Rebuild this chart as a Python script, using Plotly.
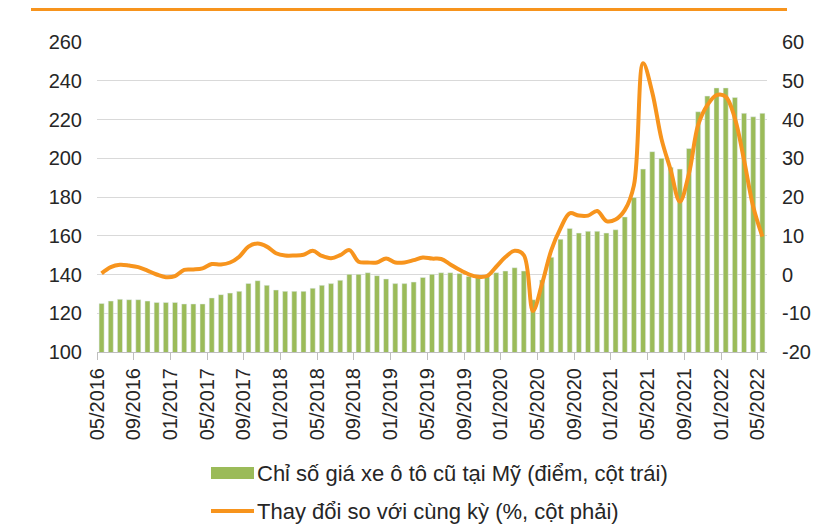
import plotly.graph_objects as go

# ---- data ----
months = [f"{(4 + i) % 12 + 1:02d}/{2016 + (4 + i) // 12}" for i in range(73)]
index_values = [
    125.0, 126.3, 127.2, 127.0, 127.0, 126.3, 125.6, 125.6, 125.6, 124.8,
    124.8, 124.8, 127.9, 129.6, 130.4, 131.3, 135.4, 136.8, 134.4, 132.0,
    131.3, 131.3, 131.3, 132.9, 134.4, 135.3, 137.0, 140.1, 140.1, 140.9,
    139.4, 137.7, 135.3, 135.3, 136.1, 138.5, 140.1, 140.9, 140.9, 140.5,
    139.0, 139.0, 139.5, 140.9, 141.8, 143.5, 141.8, 127.0, 137.2, 148.9,
    158.2, 163.8, 161.4, 162.3, 162.3, 161.4, 163.1, 169.7, 179.7, 194.4,
    203.4, 200.0, 195.3, 194.4, 205.0, 224.0, 232.1, 236.3, 236.3, 231.4,
    223.2, 221.4, 223.2,
]
yoy_change = [
    0.3, 1.9, 2.5, 2.3, 1.9, 1.0, 0.0, -0.7, -0.4, 1.2,
    1.3, 1.6, 2.7, 2.6, 3.1, 4.6, 7.2, 8.0, 7.2, 5.5,
    4.9, 4.9, 5.1, 6.1, 4.8, 4.2, 5.0, 6.3, 3.3, 3.1,
    3.1, 4.1, 3.1, 3.1, 3.7, 4.4, 4.1, 4.0, 2.6, 1.2,
    0.05, -0.6, -0.4, 2.0, 4.5, 6.1, 5.0, -9.4, -2.3, 6.3,
    11.9, 15.8, 15.2, 15.2, 16.4, 13.8, 14.2, 16.6, 23.0, 54.5,
    47.0, 35.0, 27.0, 18.8, 26.1, 38.6, 43.7, 46.3, 45.9, 40.3,
    29.5, 17.5, 9.8,
]
tick_positions = [i - 0.5 for i in range(0, 73, 4)]
tick_labels = [months[i] for i in range(0, 73, 4)]
left_ticks = list(range(100, 261, 20))
right_ticks = list(range(-20, 61, 10))
right_tick_text = [str(v) for v in right_ticks]
bar_name = "Chỉ số giá xe ô tô cũ tại Mỹ (điểm, cột trái)"
line_name = "Thay đổi so với cùng kỳ (%, cột phải)"

GREEN = "#9BBB59"
ORANGE = "#F7941D"
FONT = "Liberation Sans, Arial, sans-serif"
TXT = "#262626"

x = list(range(len(months)))

fig = go.Figure()
fig.add_trace(go.Bar(x=x, y=index_values, name=bar_name, marker_color=GREEN,
                     width=0.55, yaxis="y", showlegend=False))
fig.add_trace(go.Scatter(x=x, y=yoy_change, name=line_name, mode="lines",
                         line=dict(color=ORANGE, width=4, shape="spline", smoothing=1.0),
                         yaxis="y2", showlegend=False))

# page body has an 8px margin: plot area on screen is x 97..767, y 42..352
fig.update_layout(
    width=814, height=524,
    margin=dict(l=89, r=55, t=34, b=180),
    paper_bgcolor="white", plot_bgcolor="white",
    font=dict(family=FONT, size=20, color=TXT),
    xaxis=dict(range=[-0.5, 72.5], tickmode="array", tickvals=tick_positions,
               ticktext=tick_labels, tickangle=-90, ticks="outside", ticklen=7,
               tickcolor="#BFBFBF", showline=True, linecolor="#BFBFBF", linewidth=1,
               showgrid=False, zeroline=False, tickfont=dict(size=20, color=TXT)),
    yaxis=dict(range=[100, 260], tickvals=left_ticks, showgrid=True,
               gridcolor="#D9D9D9", gridwidth=1, zeroline=False, showline=False,
               ticklabelstandoff=14, tickfont=dict(size=20, color=TXT)),
    yaxis2=dict(range=[-20, 60], tickmode="array", tickvals=right_ticks,
                ticktext=right_tick_text, overlaying="y", side="right",
                showgrid=False, zeroline=False, showline=False,
                ticklabelstandoff=14, tickfont=dict(size=20, color=TXT)),
    bargap=0.45,
)

def px_x(p):
    return (p - 97) / 670.0

def px_y(p):
    return (352 - p) / 310.0

shapes = [
    dict(type="line", xref="paper", yref="paper", x0=px_x(31), x1=px_x(787),
         y0=px_y(9.5), y1=px_y(9.5), line=dict(color=ORANGE, width=3)),
    dict(type="rect", xref="paper", yref="paper", x0=px_x(211), x1=px_x(254),
         y0=px_y(467), y1=px_y(479), fillcolor=GREEN, line=dict(width=0)),
    dict(type="line", xref="paper", yref="paper", x0=px_x(211), x1=px_x(254),
         y0=px_y(511), y1=px_y(511), line=dict(color=ORANGE, width=4)),
]
fig.update_layout(shapes=shapes)
fig.add_annotation(xref="paper", yref="paper", x=px_x(255), y=px_y(473),
                   text=bar_name, showarrow=False, xanchor="left", yanchor="middle",
                   font=dict(size=22, color=TXT, family=FONT))
fig.add_annotation(xref="paper", yref="paper", x=px_x(255), y=px_y(511),
                   text=line_name, showarrow=False, xanchor="left", yanchor="middle",
                   font=dict(size=22, color=TXT, family=FONT))

fig.write_html("out.html")
